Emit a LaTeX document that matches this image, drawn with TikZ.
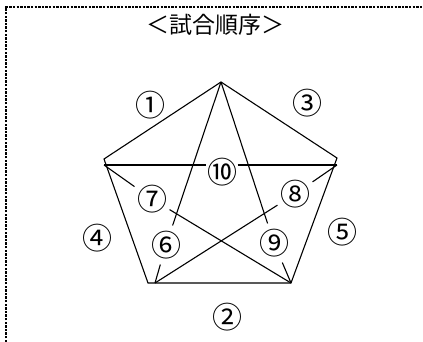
\documentclass[tikz,border=0pt]{standalone}
\usepackage{fontspec}
\newfontfamily\jpfont{Noto Sans CJK JP}
\usetikzlibrary{calc}

\begin{document}
\begin{tikzpicture}[x=1pt, y=-1pt, line width=1.1pt,
    num/.style={font=\jpfont\fontsize{30}{30}\selectfont, inner sep=0pt},
    cut/.style={num, inner xsep=2pt, inner ysep=5pt},
    frame/.style={line width=2.4pt, dash pattern=on 2.4pt off 1.2pt}]
        \useasboundingbox (0,0) rectangle (423,342);

        % Rahmen
        \draw[frame] (6,342) -- (6,7) -- (423,7);

        % Titel
        \node[font=\jpfont\fontsize{23}{23}\selectfont] (title) at (215,25) {＜試合順序＞};

        % Ecken des Fünfecks
        \coordinate (T) at (221,82);
        \coordinate (L) at (104,159);
        \coordinate (R) at (337,158);
        \coordinate (Lh) at (104,165);
        \coordinate (Rh) at (337,165);
        \coordinate (BL) at (148,283);
        \coordinate (BLd) at (155,283);
        \coordinate (BR) at (291,283);

        % Fünfeck
        \draw (L) -- (T) -- (R) -- (BR) -- (BL) -- cycle;

        % Spiele außen
        \node[num] (s1) at (150,105) {①};
        \node[num] (s2) at (227,317) {②};
        \node[num] (s3) at (307,103) {③};
        \node[num] (s4) at (97,238) {④};
        \node[num] (s5) at (342,232) {⑤};

        % Spiele innen
        \node[cut] (s6) at (166,245) {⑥};
        \node[cut] (s7) at (152,199) {⑦};
        \node[cut] (s8) at (295,194) {⑧};
        \node[cut] (s9) at (274,243) {⑨};
        \node[num] (s10) at (222,172) {⑩};

        % Diagonalen
        \draw (T) -- (s6) -- (BLd);
        \draw (T) -- (s9) -- (BR);
        \draw (Lh) -- (s7) -- (BR);
        \draw (Rh) -- (s8) -- (BLd);
        \draw (Lh) -- (s10.west |- Lh) (s10.east |- Rh) -- (Rh);
    \end{tikzpicture}
\end{document}
